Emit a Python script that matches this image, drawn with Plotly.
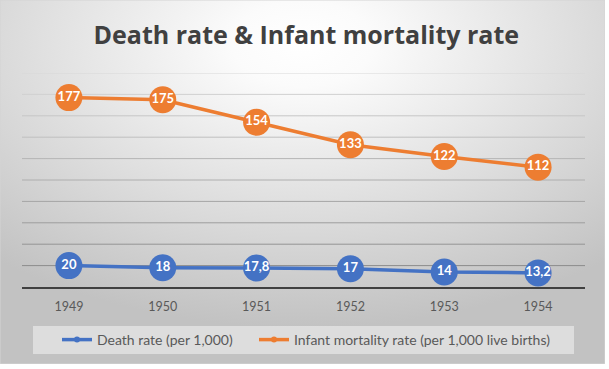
import base64
import plotly.graph_objects as go

years = ["1949", "1950", "1951", "1952", "1953", "1954"]
death_rate = [20, 18, 17.8, 17, 14, 13.2]
infant_mortality = [177, 175, 154, 133, 122, 112]
series_names = ["Death rate (per 1,000)", "Infant mortality rate (per 1,000 live births)"]
title_text = "Death rate & Infant mortality rate"

BLUE = "#4472C4"
ORANGE = "#ED7D31"
W, H = 609, 369
ML, MR, MT, MB = 22, 24, 73, 82
PW, PH = W - ML - MR, H - MT - MB
BOX_W, BOX_H = 605, 364


def fmt(v):
    return f"{v:g}".replace(".", ",")


def px_x(p):
    return (p - ML) / PW


def px_y(p):
    return (MT + PH - p) / PH


fig = go.Figure()
for vals, color in [(death_rate, BLUE), (infant_mortality, ORANGE)]:
    fig.add_trace(go.Scatter(
        x=years, y=vals, mode="lines+markers+text",
        text=[fmt(v) for v in vals], textposition="middle center",
        textfont=dict(family="Lato", size=13, color="white", weight="bold"),
        line=dict(color=color, width=3.5),
        marker=dict(color=color, size=27),
        showlegend=False, hoverinfo="skip",
    ))

# legend-only entries with small markers (each in its own legend box)
for i, (name, color) in enumerate(zip(series_names, [BLUE, ORANGE])):
    fig.add_trace(go.Scatter(
        x=[None], y=[None], mode="lines+markers", name=name,
        line=dict(color=color, width=3.5),
        marker=dict(color=color, size=6),
        legend="legend" if i == 0 else "legend2",
    ))

# gradient background
svg = (
    f"<svg xmlns='http://www.w3.org/2000/svg' width='{BOX_W}' height='{BOX_H}'>"
    "<defs><radialGradient id='g' cx='0.5' cy='0.12' r='0.78'>"
    "<stop offset='0' stop-color='#ffffff'/><stop offset='0.15' stop-color='#fbfbfb'/>"
    "<stop offset='1' stop-color='#c2c2c2'/></radialGradient></defs>"
    f"<rect x='0' y='0' width='{BOX_W}' height='{BOX_H}' fill='url(#g)' stroke='#d4d4d4' stroke-width='1'/></svg>"
)
src = "data:image/svg+xml;base64," + base64.b64encode(svg.encode()).decode()
fig.add_layout_image(dict(
    source=src, xref="paper", yref="paper",
    x=px_x(0), y=px_y(0),
    sizex=BOX_W / PW, sizey=BOX_H / PH,
    xanchor="left", yanchor="top", sizing="stretch", layer="below",
))

# legend background panel
fig.add_shape(type="rect", xref="paper", yref="paper",
              x0=px_x(33), x1=px_x(574), y0=px_y(354), y1=px_y(326),
              fillcolor="rgba(255,255,255,0.45)", line=dict(width=0), layer="below")

# gridlines with graded tone (darker near the bottom)
grid_vals = list(range(20, 201, 20))
for v in grid_vals:
    t = (v - 20) / 180
    c = int(round(0x8c + t * (0xd8 - 0x8c)))
    fig.add_shape(type="line", xref="paper", yref="y", x0=0, x1=1, y0=v, y1=v,
                  line=dict(color=f"rgb({c},{c},{c})", width=1), layer="below")

legend_font = dict(family="Lato", size=14, color="#595959")
fig.update_layout(
    width=W, height=H,
    margin=dict(l=ML, r=MR, t=MT, b=MB, autoexpand=False),
    paper_bgcolor="white", plot_bgcolor="rgba(0,0,0,0)",
    title=dict(text=title_text, x=0.503, xref="container", y=1 - 35 / H, yref="container",
               xanchor="center", yanchor="middle",
               font=dict(family="Open Sans", size=25, color="#404040", weight="bold")),
    xaxis=dict(type="category", range=[-0.5, 5.5], showgrid=False, showline=True,
               linecolor="#404040", linewidth=2, ticks="", ticklabelstandoff=7,
               tickfont=dict(family="Lato", size=12.5, color="#595959"), fixedrange=True),
    yaxis=dict(range=[0, 200], showgrid=False, zeroline=False, showticklabels=False,
               fixedrange=True),
    legend=dict(orientation="h", x=px_x(57), y=px_y(340), xanchor="left", yanchor="middle",
                bgcolor="rgba(0,0,0,0)", font=legend_font),
    legend2=dict(orientation="h", x=px_x(254), y=px_y(340), xanchor="left", yanchor="middle",
                 bgcolor="rgba(0,0,0,0)", font=legend_font),
    showlegend=True,
)

fig.write_html(
    "out.html",
    config={"displayModeBar": False},
    post_script="document.body.style.margin='0';document.body.style.overflow='hidden';",
)
